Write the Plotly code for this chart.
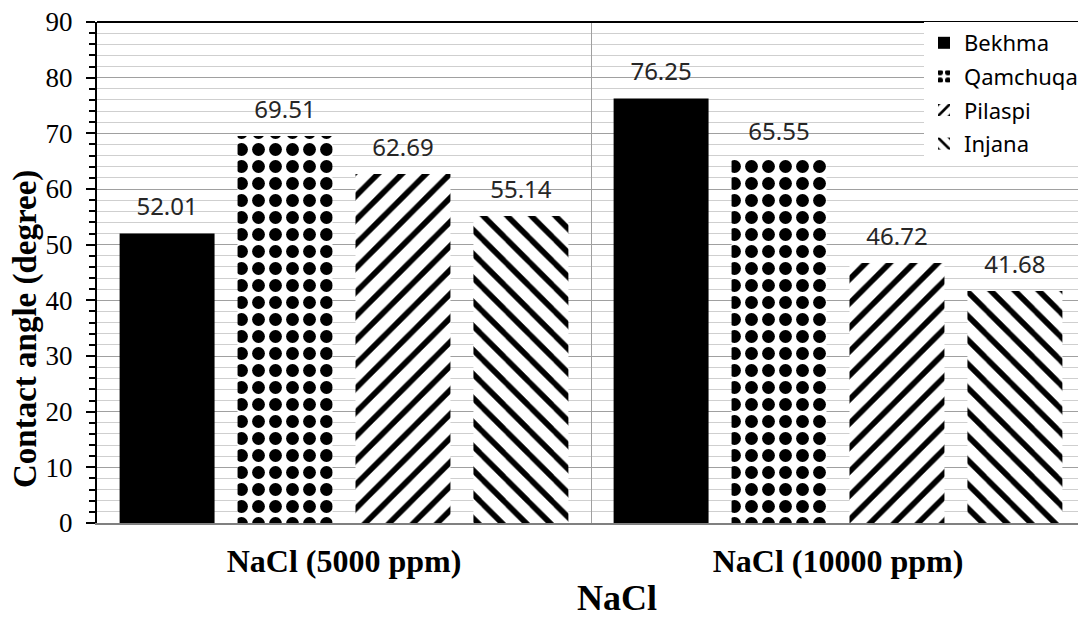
import plotly.graph_objects as go

categories = ["NaCl (5000 ppm)", "NaCl (10000 ppm)"]
bekhma = [52.01, 76.25]
qamchuqa = [69.51, 65.55]
pilaspi = [62.69, 46.72]
injana = [55.14, 41.68]

series = [
    ("Bekhma", bekhma, ""),
    ("Qamchuqa", qamchuqa, "."),
    ("Pilaspi", pilaspi, "/"),
    ("Injana", injana, "\\"),
]

fig = go.Figure()
for name, vals, shape in series:
    if shape == "":
        marker = dict(color="black", line=dict(width=0))
    elif shape == ".":
        marker = dict(color="white", line=dict(width=0),
                      pattern=dict(shape=".", fgcolor="black", bgcolor="white",
                                   size=17, solidity=0.45, fillmode="replace"))
    else:
        marker = dict(color="white", line=dict(width=0),
                      pattern=dict(shape=shape, fgcolor="black", bgcolor="white",
                                   size=17, solidity=0.33, fillmode="replace"))
    fig.add_trace(go.Bar(x=categories, y=vals, name=name, marker=marker,
                         offsetgroup=name, legendgroup=name, hoverinfo="skip"))

# value labels sit a bit higher above the bars than plotly's bar text would
for name, vals, shape in series:
    fig.add_trace(go.Scatter(
        x=categories, y=vals, mode="markers+text", offsetgroup=name,
        text=[f"{v:.2f}" for v in vals], textposition="top center",
        textfont=dict(family="Noto Sans", size=24, color="#262626"),
        marker=dict(size=18, opacity=0), showlegend=False, cliponaxis=False,
        hoverinfo="skip",
    ))

# page body has an 8px margin, so the figure is a bit smaller than the window
fig.update_layout(
    width=1078, height=611,
    margin=dict(l=89, r=1, t=14, b=96),
    plot_bgcolor="white", paper_bgcolor="white",
    barmode="group", bargap=0.045, bargroupgap=0.195,
    scattermode="group", scattergap=0.045,
    font=dict(family="Liberation Serif", color="black"),
    legend=dict(x=0.998, y=1, xanchor="right", yanchor="top",
                bgcolor="white", font=dict(family="Noto Sans", size=22),
                itemwidth=30, traceorder="grouped", tracegroupgap=2),
    shapes=[dict(type="line", xref="paper", yref="paper", x0=0, x1=1, y0=1, y1=1,
                 line=dict(color="black", width=2))],
    annotations=[
        dict(text="<b>Contact angle (degree)</b>", textangle=-90, showarrow=False,
             xref="paper", yref="paper", x=-0.073, y=0.387,
             xanchor="center", yanchor="middle",
             font=dict(family="Liberation Serif", size=33)),
        dict(text="<b>NaCl</b>", showarrow=False,
             xref="paper", yref="paper", x=0.526, y=-0.15,
             xanchor="center", yanchor="middle",
             font=dict(family="Liberation Serif", size=36)),
    ],
)
fig.update_yaxes(
    range=[0, 90], dtick=10, showgrid=True, gridcolor="#a0a0a0", gridwidth=1,
    ticks="outside", ticklen=9, tickwidth=2, tickcolor="black",
    showline=True, linecolor="black", linewidth=2,
    tickfont=dict(family="Liberation Serif", size=27), ticklabelstandoff=8,
    ticklabeloverflow="allow",
    minor=dict(dtick=2, showgrid=True, gridcolor="#cfcfcf", ticks="outside",
               ticklen=6, tickwidth=2, tickcolor="black"),
    zeroline=False, automargin=False,
)
fig.update_xaxes(
    showline=True, linecolor="#808080", linewidth=1.5,
    showgrid=True, gridcolor="#a0a0a0", tickson="boundaries", ticks="",
    tickfont=dict(family="Liberation Serif", size=32), ticklabelstandoff=9,
    tickvals=categories, ticktext=[f"<b>{c}</b>" for c in categories],
    automargin=False,
)

fig.write_html("out.html")
